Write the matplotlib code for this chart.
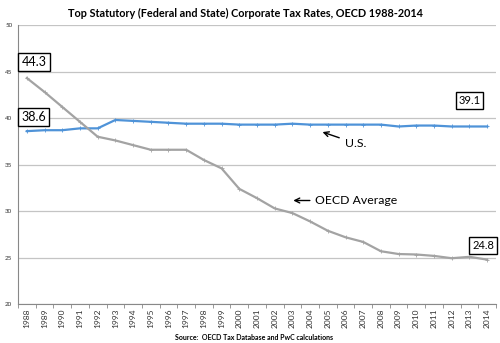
import matplotlib
matplotlib.use('Agg')
from matplotlib import pyplot as plt

years = list(range(1988, 2015))
us_rate = [38.6, 38.7, 38.7, 38.9, 38.9, 39.8, 39.7, 39.6, 39.5, 39.4, 39.4, 39.4, 39.3,
           39.3, 39.3, 39.4, 39.3, 39.3, 39.3, 39.3, 39.3, 39.1, 39.2, 39.2, 39.1, 39.1, 39.1]
oecd_avg = [44.3, 42.8, 41.2, 39.6, 38.0, 37.6, 37.1, 36.6, 36.6, 36.6, 35.5, 34.6, 32.4,
            31.4, 30.3, 29.8, 28.9, 27.9, 27.2, 26.7, 25.7, 25.4, 25.35, 25.2, 24.95, 25.1, 24.8]

plt.rcParams['font.family'] = ['Lato', 'DejaVu Sans']

fig = plt.figure(figsize=(5, 3.43), dpi=100)
ax = fig.add_axes([0.036, 0.1128, 0.956, 0.8143])

x = list(range(len(years)))
ax.plot(x, us_rate, color='#4F93D8', lw=1.6, marker='+', ms=2.5, mew=0.6, zorder=3)
ax.plot(x, oecd_avg, color='#A3A3A3', lw=1.6, marker='+', ms=2.5, mew=0.6, zorder=3)

ax.set_xlim(-0.5, len(years) - 0.5)
ax.set_ylim(20, 50)
ax.set_yticks(range(20, 51, 5))
ax.tick_params(axis='y', labelsize=4.5, length=0, pad=4, labelcolor='#333333')
ax.set_xticks(x)
ax.set_xticklabels([str(y) for y in years], rotation=90, fontsize=6, color='#333333')
ax.set_xticks([i - 0.5 for i in range(len(years) + 1)], minor=True)
ax.tick_params(axis='x', which='major', length=0, pad=3)
ax.tick_params(axis='x', which='minor', length=3, color='#888888', width=0.6)
ax.grid(axis='y', color='#C4C4C4', lw=0.9)
ax.set_axisbelow(True)
for side in ['top', 'right']:
    ax.spines[side].set_visible(False)
ax.spines['left'].set_color('#888888')
ax.spines['bottom'].set_color('#888888')
ax.spines['left'].set_linewidth(0.8)
ax.spines['bottom'].set_linewidth(0.8)

# end-point value boxes
box = dict(boxstyle='square,pad=0.25', fc='white', ec='black', lw=1.0)
ax.text(0.4, 46.0, '%.1f' % oecd_avg[0], fontsize=9, ha='center', va='center', bbox=box, zorder=5)
ax.text(0.4, 40.1, '%.1f' % us_rate[0], fontsize=9, ha='center', va='center', bbox=box, zorder=5)
ax.text(25.0, 41.9, '%.1f' % us_rate[-1], fontsize=8, ha='center', va='center', bbox=box, zorder=5)
ax.text(25.77, 26.3, '%.1f' % oecd_avg[-1], fontsize=8, ha='center', va='center', bbox=box, zorder=5)

ax.annotate('U.S.', xy=(16.7, 38.5), xytext=(17.95, 37.3), fontsize=8.8, ha='left', va='center',
            arrowprops=dict(arrowstyle='->', color='black', lw=1.0, shrinkA=2, shrinkB=0))
ax.annotate('OECD Average', xy=(15.05, 31.15), xytext=(16.3, 31.15), fontsize=8.8, ha='left', va='center',
            arrowprops=dict(arrowstyle='->', color='black', lw=1.0, shrinkA=2, shrinkB=0))

fig.text(0.49, 0.962, 'Top Statutory (Federal and State) Corporate Tax Rates, OECD 1988-2014',
         ha='center', va='center', fontsize=7.8, fontweight='bold')
fig.text(0.508, 0.015, 'Source:  OECD Tax Database and PwC calculations',
         ha='center', va='center', fontsize=5, fontweight='bold')

fig.savefig('out.png', dpi=100)
